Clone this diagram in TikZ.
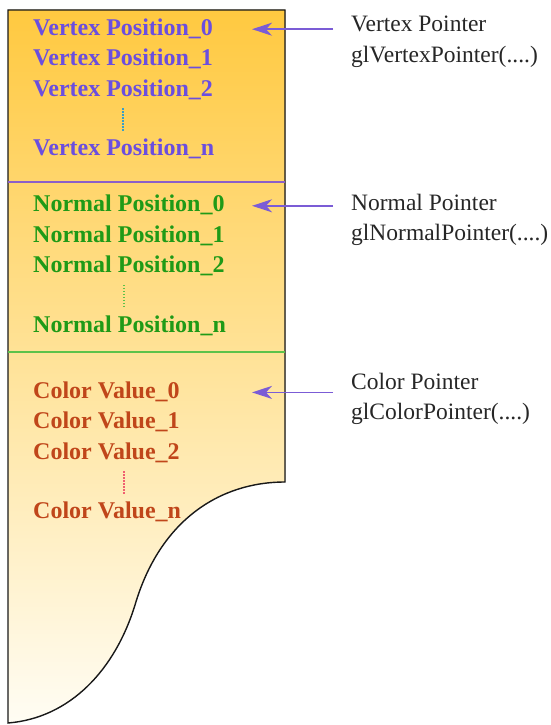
\documentclass[tikz,border=0pt]{standalone}
\usepackage{fontspec}
\setmainfont{Liberation Serif}
\usetikzlibrary{positioning,arrows.meta,calc}
\definecolor{bufTop}{HTML}{FFC940}
\definecolor{bufBottom}{HTML}{FFFDF4}
\definecolor{vertexInk}{HTML}{6B4EDF}
\definecolor{normalInk}{HTML}{1F9A17}
\definecolor{colorInk}{HTML}{C0461A}
\definecolor{ptrInk}{HTML}{7B5CD6}
\definecolor{vertexRule}{HTML}{8C5FC7}
\definecolor{normalRule}{HTML}{5DC24A}
\definecolor{vertexDots}{HTML}{3A9FC8}
\definecolor{colorDots}{HTML}{F06070}

\begin{document}
\begin{tikzpicture}[x=1pt, y=-1pt, >={Stealth[length=20pt, width=13pt, inset=6pt]}, node distance=8pt,
          entry/.style={inner sep=0pt, text height=17pt, text depth=5pt, font=\fontsize{24}{29}\selectfont\bfseries},
          ptrlabel/.style={inner sep=0pt, text height=16pt, text depth=5pt, text=black!85, font=\fontsize{23.5}{28}\selectfont},
          ptr/.style={->, ptrInk, line width=1.8pt},
          more/.style={line width=1.3pt, dash pattern=on 1.5pt off 1.5pt, shorten <=7pt, shorten >=7pt}]
        \useasboundingbox (0,0) rectangle (551,725);
        % the buffer strip
        \coordinate (rim) at (285,10);
        \fill[top color=bufTop, bottom color=bufBottom] (8,10) -- (rim) -- (285,482)
          .. controls (220,482) and (160,520) .. (135,605)
          .. controls (115,670) and (70,718) .. (8,723) -- cycle;
        \draw[line width=1.4pt, black!90] (8,10) -- (rim) -- (285,482)
          .. controls (220,482) and (160,520) .. (135,605)
          .. controls (115,670) and (70,718) .. (8,723) -- cycle;
        \draw[vertexRule, line width=1.2pt] (8,182) -- (285,182);
        \draw[normalRule, line width=1.2pt] (8,352) -- (285,352);
        % vertex block
        \node[entry, text=vertexInk, anchor=north west] (v0) at (33,18) {Vertex Position\_0};
        \node[entry, text=vertexInk, below=of v0.south west, anchor=north west] (v1) {Vertex Position\_1};
        \node[entry, text=vertexInk, below=of v1.south west, anchor=north west] (v2) {Vertex Position\_2};
        \node[entry, text=vertexInk, below=37pt of v2.south west, anchor=north west] (vn) {Vertex Position\_n};
        \draw[more, vertexDots] ($(v2.south west)+(90,0)$) -- ($(vn.north west)+(90,0)$);
        % normal block
        \node[entry, text=normalInk, below=34pt of vn.south west, anchor=north west] (n0) {Normal Position\_0};
        \node[entry, text=normalInk, below=of n0.south west, anchor=north west] (n1) {Normal Position\_1};
        \node[entry, text=normalInk, below=of n1.south west, anchor=north west] (n2) {Normal Position\_2};
        \node[entry, text=normalInk, below=37pt of n2.south west, anchor=north west] (nn) {Normal Position\_n};
        \draw[more, normalRule] ($(n2.south west)+(91,0)$) -- ($(nn.north west)+(91,0)$);
        % color block
        \node[entry, text=colorInk, below=44pt of nn.south west, anchor=north west] (c0) {Color Value\_0};
        \node[entry, text=colorInk, below=of c0.south west, anchor=north west] (c1) {Color Value\_1};
        \node[entry, text=colorInk, below=of c1.south west, anchor=north west] (c2) {Color Value\_2};
        \node[entry, text=colorInk, below=37pt of c2.south west, anchor=north west] (cn) {Color Value\_n};
        \draw[more, colorDots] ($(c2.south west)+(91,0)$) -- ($(cn.north west)+(91,0)$);
        % pointers
        \node[ptrlabel, anchor=base west] (vptr) at (351,32) {Vertex Pointer};
        \node[ptrlabel, below=9pt of vptr.south west, anchor=north west] (vfun) {glVertexPointer(....)};
        \node[ptrlabel, anchor=base west] (nptr) at (351,210) {Normal Pointer};
        \node[ptrlabel, below=9pt of nptr.south west, anchor=north west] (nfun) {glNormalPointer(....)};
        \node[ptrlabel, anchor=base west] (cptr) at (351,389) {Color Pointer};
        \node[ptrlabel, below=9pt of cptr.south west, anchor=north west] (cfun) {glColorPointer(....)};
        \draw[ptr] ($(vptr.west |- v0.east)+(-18,0)$) -- ($(v0.east -| rim)+(-33,0)$);
        \draw[ptr] ($(nptr.west |- n0.east)+(-18,0)$) -- ($(n0.east -| rim)+(-33,0)$);
        \draw[ptr] ($(cptr.west |- c0.east)+(-18,0)$) -- ($(c0.east -| rim)+(-33,0)$);
      \end{tikzpicture}
\end{document}
